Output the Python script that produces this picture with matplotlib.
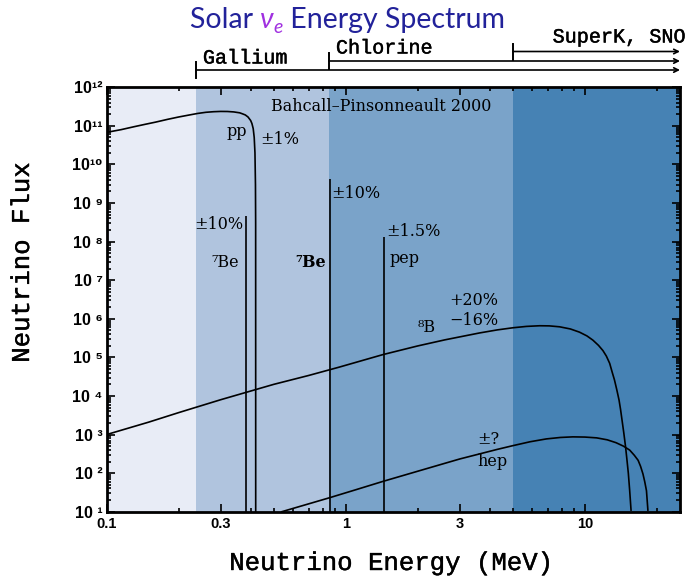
import matplotlib
matplotlib.use('Agg')
import matplotlib.pyplot as plt
import matplotlib.transforms as mtransforms
import matplotlib.patheffects as pe
from matplotlib.ticker import FixedLocator, LogLocator, NullFormatter, FixedFormatter

# ---------------- data ----------------
pp_energy = [0.10, 0.115, 0.13, 0.145, 0.16, 0.18, 0.20, 0.22, 0.24, 0.26, 0.28, 0.30,
             0.32, 0.34, 0.36, 0.37, 0.38, 0.39, 0.40, 0.405, 0.41, 0.414, 0.417,
             0.419, 0.4198, 0.42]
pp_flux = [6.8e10, 8.0e10, 9.5e10, 1.1e11, 1.25e11, 1.48e11, 1.7e11, 1.9e11, 2.1e11,
           2.25e11, 2.33e11, 2.37e11, 2.36e11, 2.3e11, 2.18e11, 2.05e11, 1.92e11,
           1.7e11, 1.38e11, 1.15e11, 8.5e10, 5e10, 2e10, 3e9, 3e8, 10]

b8_energy = [0.1, 0.15, 0.2, 0.3, 0.5, 0.7, 0.94, 1.43, 2.0, 2.6, 3.0, 3.63, 4.3, 5.0,
             5.7, 6.47, 7.1, 7.84, 8.7, 9.5, 10.2, 10.8, 11.4, 11.9, 12.3, 12.7, 13.0,
             13.3, 13.6, 13.9, 14.1, 14.3, 14.55, 14.8, 15.0, 15.2, 15.4, 15.6]
b8_flux = [1.0e3, 2.1e3, 3.7e3, 8.0e3, 2.0e4, 3.4e4, 5.6e4, 1.18e5, 1.98e5, 2.85e5,
           3.4e5, 4.3e5, 5.15e5, 5.85e5, 6.35e5, 6.6e5, 6.55e5, 6.2e5, 5.45e5, 4.5e5,
           3.6e5, 2.8e5, 2.05e5, 1.5e5, 1.08e5, 7.0e4, 4.2e4, 2.6e4, 1.45e4, 7.8e3,
           4.5e3, 2.4e3, 1.1e3, 480, 220, 99, 35, 11]

hep_energy = [0.54, 0.7, 0.855, 1.1, 1.43, 2.0, 2.6, 3.0, 3.63, 4.3, 5.0, 5.9, 6.9, 7.9,
              8.9, 10.0, 11.2, 12.4, 13.5, 14.5, 15.4, 16.1, 16.7, 17.1, 17.5, 17.8,
              18.1, 18.35]
hep_flux = [10, 16, 23, 37, 61, 112, 180, 233, 315, 412, 515, 650, 770, 840, 870, 860,
            820, 730, 615, 500, 395, 290, 215, 150, 95, 60, 35, 11]

line_energy = [0.384, 0.862, 1.442]
line_flux = [4.7e8, 4.2e9, 1.35e8]

band_edges = [0.1, 0.236, 0.85, 5.0, 25.0]
band_colors = ['#e8ecf6', '#b0c4de', '#7aa3c9', '#4682b4']

detector_names = ['Gallium', 'Chlorine', 'SuperK, SNO']
detector_thresholds = [0.236, 0.85, 5.0]

x_major = [0.1, 0.3, 1, 3, 10]
x_major_labels = ['0.1', '0.3', '1', '3', '10']
y_exponents = list(range(1, 13))

# ---------------- figure ----------------
W, H = 689, 578
fig = plt.figure(figsize=(W / 100, H / 100), dpi=100)
fig.patch.set_facecolor('white')
ax = fig.add_axes([106.7 / W, 1 - 511.7 / H, (680 - 106.7) / W, (511.7 - 87.3) / H])
ax.set_xscale('log')
ax.set_yscale('log')
ax.set_xlim(band_edges[0], band_edges[-1])
ax.set_ylim(10, 1e12)

for i, c in enumerate(band_colors):
    ax.axvspan(band_edges[i], band_edges[i + 1], color=c, lw=0, zorder=0)

ax.plot(pp_energy, pp_flux, color='black', lw=1.2, zorder=3)
ax.plot(b8_energy, b8_flux, color='black', lw=1.2, zorder=3)
ax.plot(hep_energy, hep_flux, color='black', lw=1.2, zorder=3)
ax.vlines(line_energy, 10, line_flux, color='black', lw=1.2, zorder=3)

# ticks
SUP = str.maketrans('0123456789', '⁰¹²³⁴⁵⁶⁷⁸⁹')
ax.xaxis.set_major_locator(FixedLocator(x_major))
ax.xaxis.set_major_formatter(FixedFormatter(x_major_labels))
ax.xaxis.set_minor_locator(LogLocator(base=10, subs=[2, 4, 5, 6, 7, 8, 9], numticks=20))
ax.xaxis.set_minor_formatter(NullFormatter())
ax.yaxis.set_major_locator(FixedLocator([10.0 ** n for n in y_exponents]))
ax.yaxis.set_major_formatter(FixedFormatter(
    ['10' + ('' if n >= 10 else ' ') + str(n).translate(SUP) for n in y_exponents]))
ax.yaxis.set_minor_locator(LogLocator(base=10, subs=range(2, 10), numticks=30))
ax.yaxis.set_minor_formatter(NullFormatter())
ax.tick_params(which='both', direction='in', top=True, right=True, width=1.2)
ax.tick_params(which='major', length=5.5)
ax.tick_params(which='minor', length=2.8)
ax.tick_params(axis='x', pad=4)
ax.tick_params(axis='y', pad=3)
for lab in ax.get_xticklabels():
    lab.set_fontfamily(['Liberation Sans', 'DejaVu Sans'])
    lab.set_fontweight('bold')
    lab.set_fontsize(10.5)
for lab in ax.get_yticklabels():
    lab.set_fontfamily(['Liberation Sans', 'DejaVu Sans'])
    lab.set_fontweight('bold')
    lab.set_fontsize(11.5)
for s in ax.spines.values():
    s.set_linewidth(2.0)
    s.set_zorder(5)

# in-plot labels
serif = ['DejaVu Serif']
tk = dict(family=serif, fontsize=11.5, ha='center', va='center', zorder=4)
ax.text(1.40, 3.27e11, 'Bahcall\u2013Pinsonneault 2000', **tk)
ax.text(0.350, 7.3e10, 'pp', **tk)
ax.text(0.530, 4.57e10, '±1%', **tk)
ax.text(0.294, 2.86e8, '±10%', **tk)
ax.text(0.312, 2.95e7, '⁷Be', **tk)
ax.text(0.713, 2.95e7, '⁷Be', fontweight='bold', **tk)
ax.text(1.10, 1.8e9, '±10%', **tk)
ax.text(1.926, 1.88e8, '±1.5%', **tk)
ax.text(1.766, 3.55e7, 'pep', **tk)
ax.text(3.425, 3.06e6, '+20%', **tk)
ax.text(3.425, 9.25e5, '\u221216%', **tk)
ax.text(2.18, 6.1e5, '⁸B', **tk)
ax.text(3.96, 724, '±?', **tk)
ax.text(4.12, 195, 'hep', **tk)

# axis labels
mono = ['Liberation Mono', 'DejaVu Sans Mono']
stroke = [pe.withStroke(linewidth=0.3, foreground='black')]
fig.text(392 / W, 1 - 563 / H, 'Neutrino Energy (MeV)', family=mono, fontsize=18.5,
         ha='center', va='center', path_effects=stroke)
fig.text(22 / W, 1 - 262 / H, 'Neutrino Flux', family=mono, fontsize=18.5,
         ha='center', va='center', rotation=90, path_effects=stroke)

# detector threshold arrows
trans = mtransforms.blended_transform_factory(ax.transData, fig.transFigure)
line_y = [70, 61, 51.5]
text_y = [58, 48, 37]
for name, thr, ly, ty in zip(detector_names, detector_thresholds, line_y, text_y):
    ax.annotate('', xy=(band_edges[-1], 1 - ly / H), xytext=(thr, 1 - ly / H),
                xycoords=trans, textcoords=trans,
                arrowprops=dict(arrowstyle='->', lw=1.2, color='black',
                                shrinkA=0, shrinkB=0, mutation_scale=8),
                annotation_clip=False)
    ax.plot([thr, thr], [1 - (ly - 8) / H, 1 - (ly + 8) / H], transform=trans,
            color='black', lw=1.4, clip_on=False)
    if name.startswith('SuperK'):
        fig.text(686 / W, 1 - ty / H, name, family=mono, fontsize=14.5,
                 ha='right', va='center', path_effects=stroke)
    else:
        ax.text(thr * 1.07, 1 - ty / H, name, family=mono, fontsize=14.5,
                ha='left', va='center', transform=trans, path_effects=stroke)

# title with coloured nu_e
navy = '#22229a'
purple = '#a030e0'
renderer = fig.canvas.get_renderer()
tfam = ['Lato', 'DejaVu Sans']
x0 = 190 / W
ty = 1 - 20 / H
parts = [('Solar ', navy, 'normal', 20.5, 0),
         ('ν', purple, 'italic', 20.5, 0),
         ('e', purple, 'italic', 14, -0.013),
         (' Energy Spectrum', navy, 'normal', 20.5, 0)]
xc = x0
for txt, col, sty, fs, dy in parts:
    t = fig.text(xc, ty + dy, txt, color=col, family=tfam, style=sty, fontsize=fs,
                 ha='left', va='center')
    bb = t.get_window_extent(renderer=renderer)
    xc = bb.x1 / W

fig.savefig('out.png', dpi=100)
